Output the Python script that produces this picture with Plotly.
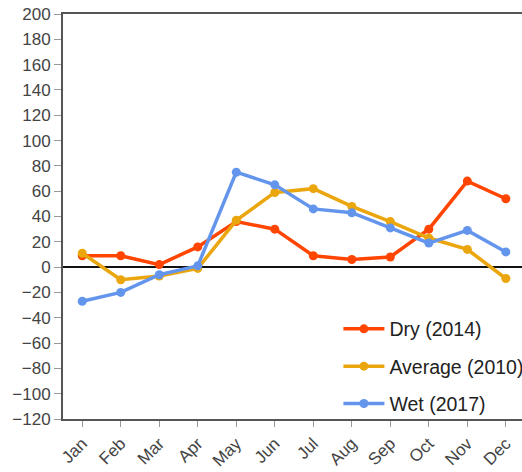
import plotly.graph_objects as go

months = ['Jan', 'Feb', 'Mar', 'Apr', 'May', 'Jun',
          'Jul', 'Aug', 'Sep', 'Oct', 'Nov', 'Dec']

dry_2014 = [9, 9, 2, 16, 36, 30, 9, 6, 8, 30, 68, 54]
average_2010 = [11, -10, -7, -1, 37, 59, 62, 48, 36, 23, 14, -9]
wet_2017 = [-27, -20, -6, 1, 75, 65, 46, 43, 31, 19, 29, 12]

series = [
    ('Dry (2014)', dry_2014, '#FF4500'),
    ('Average (2010)', average_2010, '#EBA60E'),
    ('Wet (2017)', wet_2017, '#6495ED'),
]

fig = go.Figure()
for name, values, colour in series:
    fig.add_trace(go.Scatter(
        x=months,
        y=values,
        name=name,
        legendgroup=name,
        mode='lines+markers',
        line=dict(color=colour, width=3.5),
        marker=dict(color=colour, size=9),
    ))

axis_font = dict(family='Liberation Sans, Arial, sans-serif', size=17, color='#444')

fig.update_layout(
    width=522,
    height=472,
    margin=dict(l=63, r=0, t=14, b=53, autoexpand=False),
    paper_bgcolor='white',
    plot_bgcolor='white',
    font=axis_font,
    showlegend=True,
    legend=dict(
        x=0.6, y=0.27, xanchor='left', yanchor='top',
        font=dict(family='Liberation Sans, Arial, sans-serif', size=19.5, color='#222'),
        itemwidth=41,
        tracegroupgap=9,
        bgcolor='rgba(0,0,0,0)',
    ),
    xaxis=dict(
        type='category',
        range=[-0.5, 11.42],
        automargin=False,
        showline=True, linecolor='#555', linewidth=2, mirror=True,
        ticks='outside', ticklen=6, tickcolor='#999',
        tickangle=-45,
        ticklabeloverflow='allow',
        showgrid=False, zeroline=False,
        tickfont=axis_font,
    ),
    yaxis=dict(
        range=[-120, 200],
        dtick=20,
        automargin=False,
        showline=True, linecolor='#555', linewidth=2,
        ticks='outside', ticklen=7, tickcolor='#999',
        ticklabeloverflow='allow',
        showgrid=False,
        zeroline=True, zerolinecolor='#111', zerolinewidth=2,
        tickfont=axis_font,
    ),
)

# drop the browser's default 8px body margin so the figure sits at the corner
fig.write_html("out.html", config={'displayModeBar': False},
               post_script="document.body.style.margin = '0';")
